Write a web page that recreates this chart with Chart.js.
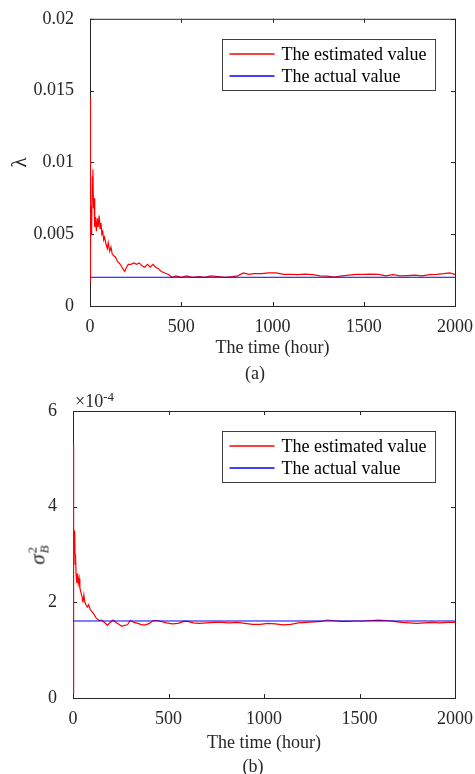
<!DOCTYPE html>
<html>
<head>
<meta charset="utf-8">
<script src="https://cdn.jsdelivr.net/npm/chart.js@4.4.1/dist/chart.umd.min.js"></script>
<style>
  html, body { margin: 0; padding: 0; background: #fff; }
  body { width: 475px; height: 774px; position: relative; overflow: hidden; font-family: "Liberation Serif", serif; color: #262626; }
  canvas { position: absolute; left: 0; }
  #chartA { top: 0; }
  #chartB { top: 387px; }
  .caption { position: absolute; font-size: 18px; transform: translate(-50%, -50%); white-space: nowrap; }
  #expo { position: absolute; left: 75px; top: 391px; font-size: 18px; white-space: nowrap; }
  #expo sup { font-size: 13px; vertical-align: 6px; line-height: 0; }
  #sigLabel { position: absolute; left: 38px; top: 555px; transform: translate(-50%, -50%) rotate(-90deg);
    font-size: 21px; white-space: nowrap; display: flex; align-items: center; }
  #sigLabel .stack { display: inline-flex; flex-direction: column; font-size: 13px; line-height: 12px; margin-left: 1px; }
</style>
</head>
<body>
<canvas id="chartA" width="475" height="387"></canvas>
<canvas id="chartB" width="475" height="387"></canvas>
<div class="caption" style="left:255px; top:373px;">(a)</div>
<div class="caption" style="left:253px; top:766px;">(b)</div>
<div id="expo">&times;10<sup>-4</sup></div>
<div id="sigLabel"><i>&sigma;</i><span class="stack"><span>2</span><i>B</i></span></div>
<script>
// ---- data ----
const seriesLabels = ["The estimated value", "The actual value"];
const seriesColors = ["rgb(255, 0, 0)", "rgb(0, 0, 255)"];
const xTicks = [0, 500, 1000, 1500, 2000];

// (a) lambda estimate over time (hours)
const lamTime = [0, 1, 2, 3, 4, 6, 8, 10, 13, 16, 19, 22, 26, 30, 35, 40, 45, 50, 55, 60, 65, 70, 75, 80, 88, 95,
  100, 108, 115, 122, 130, 140, 150, 160, 170, 180, 190, 200, 210, 225, 240, 255, 270, 285, 300, 315, 330, 345,
  360, 375, 390, 410, 430, 450, 470, 500, 530, 560, 600, 630, 660, 700, 740, 780, 810, 840, 870, 900, 940, 980,
  1020, 1060, 1100, 1140, 1180, 1220, 1260, 1300, 1340, 1380, 1420, 1460, 1500, 1540, 1580, 1620, 1660, 1700,
  1740, 1780, 1820, 1860, 1900, 1940, 1970, 2000];
const lamEst = [0.0017, 0.0145, 0.0060, 0.0125, 0.0040, 0.0070, 0.0050, 0.0055, 0.0090, 0.0095, 0.0068, 0.0075,
  0.0055, 0.0062, 0.0052, 0.0061, 0.0055, 0.0063, 0.0054, 0.0058, 0.0050, 0.0052, 0.0046, 0.0048, 0.0043, 0.0040,
  0.0044, 0.0038, 0.0041, 0.0036, 0.0035, 0.0034, 0.0031, 0.0030, 0.0028, 0.0026, 0.0024, 0.0027, 0.0029, 0.0029,
  0.0030, 0.0029, 0.0030, 0.0028, 0.0027, 0.0029, 0.0027, 0.0029, 0.0027, 0.0026, 0.0024, 0.0023, 0.0022, 0.0020,
  0.0021, 0.0020, 0.0021, 0.0020, 0.00205, 0.0020, 0.0021, 0.00205, 0.0020, 0.00205, 0.0021, 0.0023, 0.0022,
  0.00225, 0.00225, 0.0023, 0.0023, 0.0022, 0.0022, 0.00218, 0.00222, 0.00218, 0.0021, 0.00208, 0.00202, 0.0021,
  0.00215, 0.0022, 0.0022, 0.00222, 0.0022, 0.0021, 0.00218, 0.0021, 0.00212, 0.00215, 0.0021, 0.00218, 0.0022,
  0.00225, 0.0023, 0.0022];
const actualTime = [0, 2000];
const lamActual = [0.002, 0.002];
const lamTicks = [0, 0.005, 0.01, 0.015, 0.02];

// (b) sigma_B^2 estimate, in units of 1e-4
const sigTime = [0, 1, 2, 3, 4, 5, 7, 9, 11, 13, 16, 20, 24, 28, 32, 36, 42, 48, 52, 57, 62, 68, 75, 82, 90, 100,
  110, 120, 130, 140, 150, 165, 180, 195, 210, 225, 240, 255, 270, 285, 300, 320, 340, 360, 380, 400, 420, 440,
  460, 490, 520, 550, 580, 600, 630, 660, 700, 740, 780, 820, 860, 900, 940, 980, 1020, 1060, 1100, 1140, 1180,
  1220, 1260, 1300, 1330, 1360, 1400, 1440, 1480, 1520, 1560, 1600, 1640, 1680, 1720, 1760, 1800, 1840, 1880,
  1920, 1960, 2000];
const sigEst = [0.1, 5.3, 2.0, 3.7, 2.2, 3.6, 3.0, 3.5, 2.8, 3.0, 2.6, 2.4, 2.6, 2.4, 2.5, 2.3, 2.2, 2.1, 2.0, 2.15,
  2.0, 1.95, 1.9, 1.95, 1.85, 1.8, 1.75, 1.68, 1.64, 1.62, 1.63, 1.58, 1.52, 1.58, 1.63, 1.58, 1.54, 1.5, 1.52,
  1.53, 1.62, 1.58, 1.56, 1.53, 1.53, 1.56, 1.62, 1.62, 1.6, 1.57, 1.55, 1.56, 1.6, 1.6, 1.57, 1.56, 1.57, 1.58,
  1.58, 1.57, 1.58, 1.56, 1.54, 1.54, 1.56, 1.55, 1.53, 1.54, 1.57, 1.58, 1.59, 1.6, 1.63, 1.62, 1.6, 1.6, 1.61,
  1.61, 1.62, 1.63, 1.62, 1.6, 1.58, 1.57, 1.56, 1.57, 1.58, 1.57, 1.58, 1.58];
const sigActual = [1.61, 1.61];
const sigTicks = [0, 2, 4, 6];

const FONT = "'Liberation Serif', serif";
const TEXT = "#262626";

const toPoints = (xs, ys) => xs.map((x, i) => ({ x, y: ys[i] }));

// MATLAB-like box with inward ticks (under the data), framed legend on top
const framePlugin = {
  id: "frame",
  beforeDatasetsDraw(chart) {
    const { ctx, chartArea: a, scales: { x, y } } = chart;
    const len = 4;
    ctx.save();
    ctx.strokeStyle = TEXT;
    ctx.lineWidth = 1;
    ctx.strokeRect(a.left + 0.5, a.top + 0.5, a.right - a.left, a.bottom - a.top);
    ctx.beginPath();
    x.ticks.forEach((t) => {
      const px = Math.round(x.getPixelForValue(t.value)) + 0.5;
      ctx.moveTo(px, a.bottom); ctx.lineTo(px, a.bottom - len);
      ctx.moveTo(px, a.top); ctx.lineTo(px, a.top + len);
    });
    y.ticks.forEach((t) => {
      const py = Math.round(y.getPixelForValue(t.value)) + 0.5;
      ctx.moveTo(a.left, py); ctx.lineTo(a.left + len, py);
      ctx.moveTo(a.right, py); ctx.lineTo(a.right - len, py);
    });
    ctx.stroke();
    ctx.restore();
  },
  afterDatasetsDraw(chart) {
    const { ctx, chartArea: a } = chart;
    const w = 213, h = 51;
    const bx = Math.round(a.right - 20 - w) + 0.5;
    const by = Math.round(a.top + 20) + 0.5;
    ctx.save();
    ctx.fillStyle = "#fff";
    ctx.fillRect(bx, by, w, h);
    ctx.strokeStyle = "#404040";
    ctx.lineWidth = 1;
    ctx.strokeRect(bx, by, w, h);
    ctx.font = "18px " + FONT;
    ctx.textBaseline = "middle";
    ctx.textAlign = "left";
    seriesLabels.forEach((label, i) => {
      const ry = Math.round(by + 14 + i * 22);
      ctx.strokeStyle = seriesColors[i];
      ctx.lineWidth = 1.3;
      ctx.beginPath();
      ctx.moveTo(bx + 7, ry); ctx.lineTo(bx + 52, ry);
      ctx.stroke();
      ctx.fillStyle = "#000";
      ctx.fillText(label, bx + 59, ry + 1);
    });
    ctx.restore();
  },
};

function makeChart(canvasId, cfg) {
  return new Chart(document.getElementById(canvasId).getContext("2d"), {
    type: "line",
    data: {
      datasets: [
        {
          label: seriesLabels[0],
          data: toPoints(cfg.estTime, cfg.est),
          borderColor: seriesColors[0],
          borderWidth: 1.2,
          order: 1,
        },
        {
          label: seriesLabels[1],
          data: toPoints(actualTime, cfg.actual),
          borderColor: seriesColors[1],
          borderWidth: 1,
          order: 0,
        },
      ],
    },
    options: {
      responsive: false,
      devicePixelRatio: 1,
      animation: false,
      events: [],
      layout: { padding: { top: cfg.padTop, right: 19, left: 0, bottom: 0 } },
      elements: { point: { radius: 0 }, line: { tension: 0 } },
      plugins: { legend: { display: false }, tooltip: { enabled: false } },
      scales: {
        x: {
          type: "linear",
          min: 0,
          max: 2000,
          afterBuildTicks: (s) => { s.ticks = xTicks.map((v) => ({ value: v })); },
          ticks: {
            color: TEXT,
            font: { family: FONT, size: 18 },
            padding: 2,
            maxRotation: 0,
            callback: (v) => String(v),
          },
          grid: { display: false },
          border: { display: false },
          title: {
            display: true,
            text: "The time (hour)",
            color: TEXT,
            font: { family: FONT, size: 18 },
            padding: { top: 0, bottom: cfg.xTitlePad },
          },
          afterFit: (s) => { s.height = cfg.xHeight; },
        },
        y: {
          min: cfg.yTicks[0],
          max: cfg.yTicks[cfg.yTicks.length - 1],
          afterBuildTicks: (s) => { s.ticks = cfg.yTicks.map((v) => ({ value: v })); },
          ticks: {
            color: TEXT,
            font: { family: FONT, size: 18 },
            padding: 8,
            callback: (v) => String(+v.toFixed(4)),
          },
          grid: { display: false },
          border: { display: false },
          title: cfg.yTitle,
          afterFit: (s) => { s.width = cfg.yWidth; },
        },
      },
    },
    plugins: [framePlugin],
  });
}

function drawAll() {
  Chart.defaults.font.family = FONT;
  makeChart("chartA", {
    estTime: lamTime,
    est: lamEst,
    actual: lamActual,
    yTicks: lamTicks,
    padTop: 18,
    yWidth: 90,
    xHeight: 81,
    xTitlePad: 28,
    yTitle: {
      display: true,
      text: "λ",
      color: TEXT,
      font: { family: FONT, size: 21 },
      padding: { top: 8, bottom: 0 },
    },
  });
  makeChart("chartB", {
    estTime: sigTime,
    est: sigEst,
    actual: sigActual,
    yTicks: sigTicks,
    padTop: 24,
    yWidth: 73,
    xHeight: 76,
    xTitlePad: 20,
    yTitle: { display: false },
  });
}

Promise.all([
  document.fonts.load("18px 'Liberation Serif'"),
  document.fonts.load("italic 18px 'Liberation Serif'"),
]).then(drawAll, drawAll);
</script>
</body>
</html>
